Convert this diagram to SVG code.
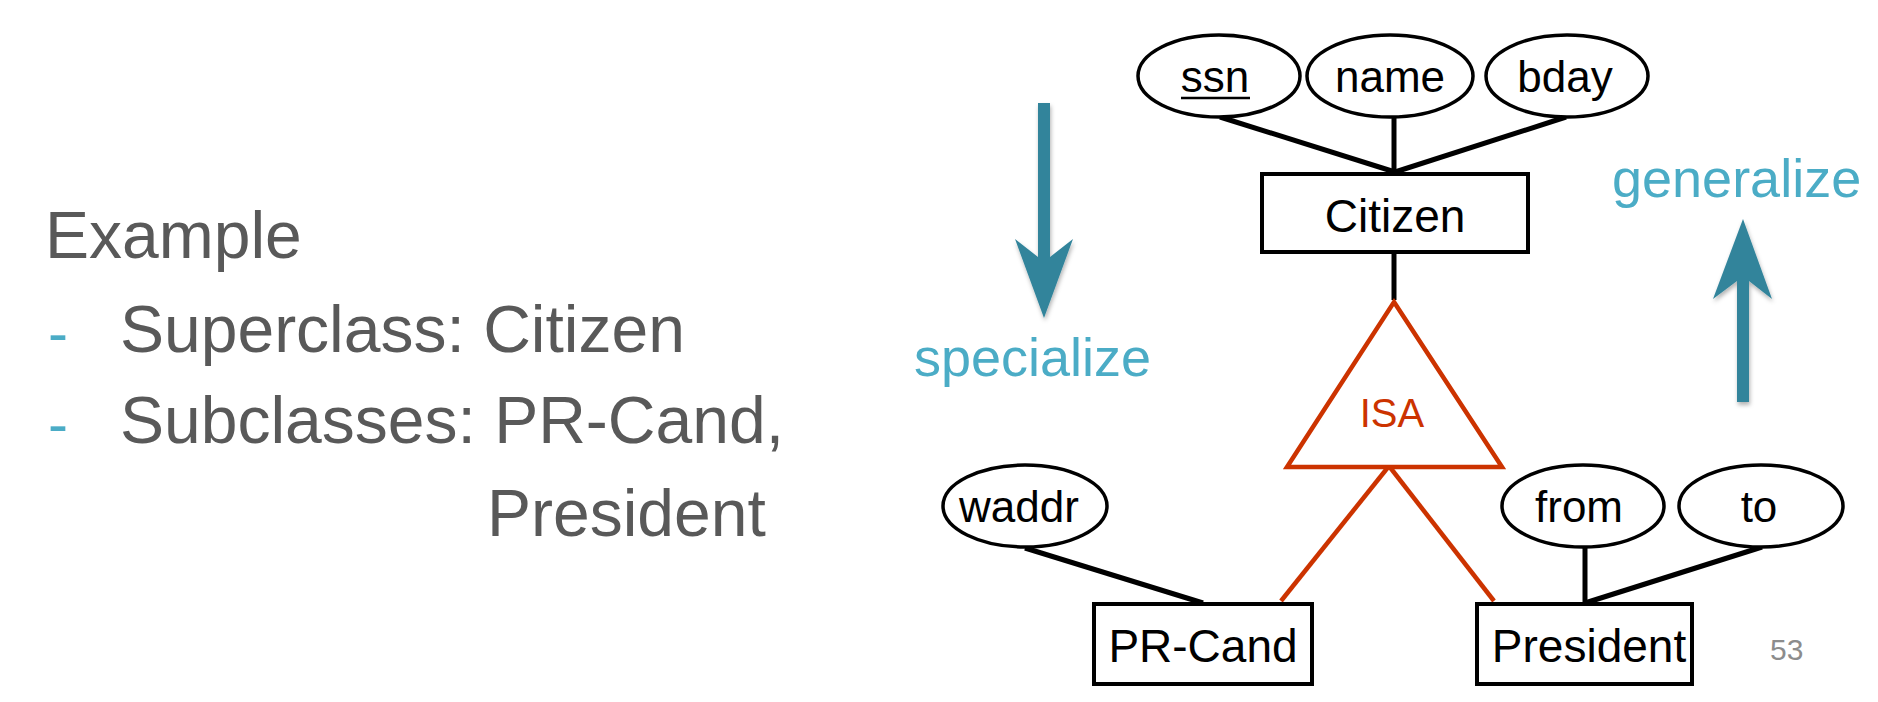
<svg xmlns="http://www.w3.org/2000/svg" width="1878" height="702" viewBox="0 0 1878 702">
<defs>
<style>
.t{font-family:"Liberation Sans",Arial,Helvetica,sans-serif;}
.slide{font-size:66px;fill:#595959;}
.bul{font-size:60px;fill:#4BACC6;}
.lbl{font-size:54px;fill:#4BACC6;}
.attr{fill:#fff;stroke:#000;stroke-width:3.5;}
.ent{fill:#fff;stroke:#000;stroke-width:4;}
.at{font-size:44px;fill:#000;text-anchor:middle;}
.et{font-size:46px;fill:#000;text-anchor:middle;}
.ln{stroke:#000;stroke-width:5;fill:none;}
.rl{stroke:#CC3300;stroke-width:4.5;fill:none;}
.arr{fill:#31849B;}
</style>
<filter id="sh" x="-50%" y="-10%" width="200%" height="130%">
<feDropShadow dx="1" dy="3" stdDeviation="2" flood-color="#000" flood-opacity="0.3"/>
</filter>
</defs>
<rect width="1878" height="702" fill="#fff"/>
<g id="slide-text" class="t">
<text class="slide" x="45" y="258">Example</text>
<text class="bul" x="48" y="353">-</text>
<text class="slide" x="120" y="352">Superclass: Citizen</text>
<text class="bul" x="48" y="444">-</text>
<text class="slide" x="120" y="443">Subclasses: PR-Cand,</text>
<text class="slide" x="487" y="536">President</text>
<text x="1770" y="660" style="font-size:30px;fill:#8C8C8C;">53</text>
</g>
<g id="specialize">
<path class="arr" filter="url(#sh)" d="M1038,103 H1050 V257 L1073,239 L1044,318 L1015,239 L1038,257 Z"/>
<text class="t lbl" x="914" y="376">specialize</text>
</g>
<g id="generalize">
<path class="arr" filter="url(#sh)" d="M1737,402 H1749 V281 L1772,299 L1743,219 L1713,299 L1737,281 Z"/>
<text class="t lbl" x="1612" y="197">generalize</text>
</g>
<g id="connectors">
<line class="ln" x1="1220" y1="117" x2="1395" y2="172"/>
<line class="ln" x1="1394" y1="117" x2="1394" y2="172"/>
<line class="ln" x1="1566" y1="117" x2="1395" y2="172"/>
<line class="ln" x1="1394" y1="253" x2="1394" y2="300"/>
<line class="rl" x1="1389" y1="466" x2="1281" y2="601"/>
<line class="rl" x1="1389" y1="466" x2="1494" y2="601"/>
<line class="ln" x1="1025" y1="548" x2="1203" y2="603"/>
<line class="ln" x1="1585" y1="547" x2="1585" y2="603"/>
<line class="ln" x1="1762" y1="547" x2="1585" y2="603"/>
</g>
<g id="ssn" class="t">
<ellipse class="attr" cx="1219" cy="76" rx="81" ry="41"/>
<text class="at" x="1215" y="92">ssn</text>
<line x1="1181" y1="98" x2="1250" y2="98" stroke="#000" stroke-width="2.5"/>
</g>
<g id="name" class="t">
<ellipse class="attr" cx="1390" cy="76" rx="83" ry="41"/>
<text class="at" x="1390" y="92">name</text>
</g>
<g id="bday" class="t">
<ellipse class="attr" cx="1567" cy="76" rx="81" ry="41"/>
<text class="at" x="1565" y="92">bday</text>
</g>
<g id="Citizen" class="t">
<rect class="ent" x="1262" y="174" width="266" height="78"/>
<text class="et" x="1395" y="232">Citizen</text>
</g>
<g id="ISA" class="t">
<polygon points="1394,302 1502,467 1287,467" fill="#fff" stroke="#CC3300" stroke-width="4.5"/>
<text x="1392" y="427" style="font-size:40px;fill:#CC3300;text-anchor:middle;">ISA</text>
</g>
<g id="waddr" class="t">
<ellipse class="attr" cx="1025" cy="506" rx="82" ry="41"/>
<text class="at" x="1019" y="522">waddr</text>
</g>
<g id="PR-Cand" class="t">
<rect class="ent" x="1094" y="604" width="218" height="80"/>
<text class="et" x="1203" y="662">PR-Cand</text>
</g>
<g id="from" class="t">
<ellipse class="attr" cx="1583" cy="506" rx="81" ry="41"/>
<text class="at" x="1579" y="522">from</text>
</g>
<g id="to" class="t">
<ellipse class="attr" cx="1761" cy="506" rx="82" ry="41"/>
<text class="at" x="1759" y="522">to</text>
</g>
<g id="President" class="t">
<rect class="ent" x="1477" y="604" width="215" height="80"/>
<text class="et" x="1589" y="662">President</text>
</g>
</svg>
